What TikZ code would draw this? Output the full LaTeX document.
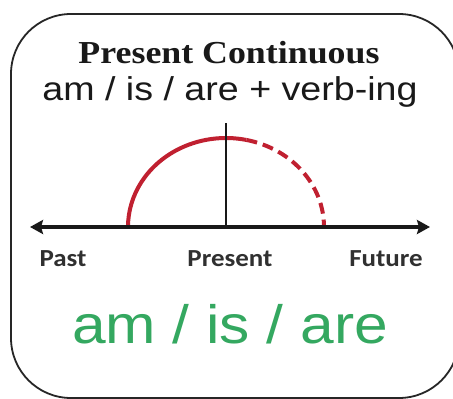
\documentclass[tikz,border=0pt]{standalone}
\usepackage{fontspec}
\setmainfont{Liberation Serif}
\newfontfamily\arialf{Liberation Sans}
\newfontfamily\calibf{Carlito}
\usetikzlibrary{arrows.meta}
\definecolor{arcred}{RGB}{192,32,48}
\definecolor{vgreen}{RGB}{52,168,96}
\definecolor{ink}{RGB}{25,25,25}
\tikzset{
  titletext/.style={anchor=base, inner sep=0pt, font=\fontsize{32}{36}\selectfont\bfseries, xscale=1.12, text=ink},
  subtext/.style={anchor=base, inner sep=0pt, font=\arialf\fontsize{33}{38}\selectfont, xscale=1.14, text=ink},
  tllabel/.style={anchor=base, inner sep=0pt, font=\calibf\bfseries\fontsize{24.5}{28}\selectfont, xscale=1.1, text=ink!90},
  bigtext/.style={anchor=base, inner sep=0pt, font=\arialf\fontsize{54}{60}\selectfont, xscale=1.12, text=vgreen},
  axis/.style={line width=3.2pt, ink, {Stealth[length=13pt,width=14pt,inset=2pt]}-{Stealth[length=13pt,width=14pt,inset=2pt]}},
  tick/.style={line width=2.8pt, ink},
  arcline/.style={line width=4pt, arcred},
  frame/.style={line width=1.8pt, draw=black!85, rounded corners=60pt}
}
\begin{document}
\begin{tikzpicture}[x=1pt,y=-1pt]
\useasboundingbox (0,0) rectangle (453,399);
\fill[white] (0,0) rectangle (453,399);
\begin{scope}
\clip (0,0) rectangle (453,399);
\draw[frame] (11,14) rectangle (459,398);
\end{scope}
\node[titletext] (title) at (229,63) {Present Continuous};
\node[subtext] (sub) at (230,100) {am / is / are + verb-ing};
\coordinate (L) at (30,227);
\coordinate (R) at (430,227);
\coordinate (vt) at (226,123);
\coordinate (vb) at (226,227);
\coordinate (arcstart) at (128,227);
\draw[arcline] (arcstart) arc[start angle=180, end angle=78, x radius=98pt, y radius=89pt] coordinate (arcmid);
\draw[arcline, dash pattern=on 11pt off 6pt] (arcmid) arc[start angle=78, end angle=0, x radius=98pt, y radius=89pt];
\draw[tick] (vt) -- (vb);
\draw[axis] (L) -- (R);
\node[tllabel] (past) at (63,266) {Past};
\node[tllabel] (present) at (230,266) {Present};
\node[tllabel] (future) at (386,266) {Future};
\node[bigtext] (green) at (230,343) {am / is / are};
\end{tikzpicture}
\end{document}
